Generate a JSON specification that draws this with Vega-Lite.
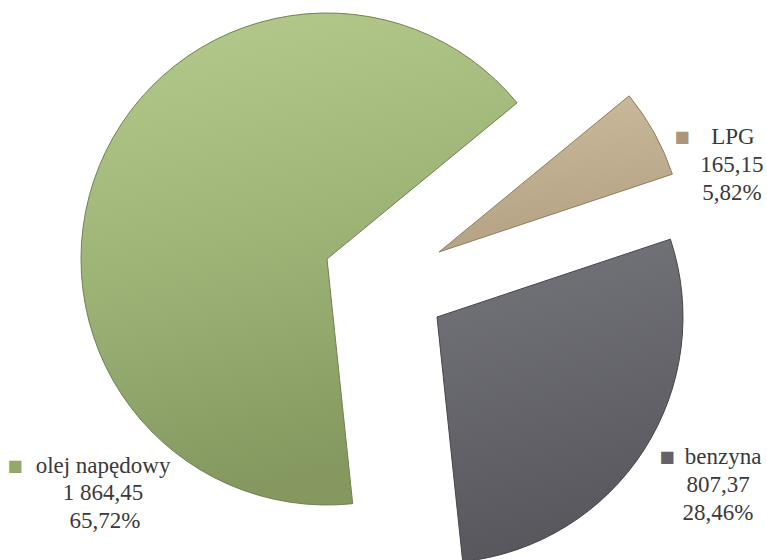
{
  "$schema": "https://vega.github.io/schema/vega-lite/v6.json",
  "width": 764,
  "height": 554,
  "autosize": "none",
  "padding": {"left": 3, "top": 6, "right": 0, "bottom": 0},
  "background": "white",
  "data": {
    "values": [
      {"category": "LPG", "value": 165.15, "share": 0.0582},
      {"category": "benzyna", "value": 807.37, "share": 0.2846},
      {"category": "olej napędowy", "value": 1864.45, "share": 0.6572}
    ]
  },
  "transform": [
    {"stack": "value", "groupby": [], "sort": [{"field": "category", "order": "ascending"}], "as": ["v0", "v1"]}
  ],
  "layer": [
    {
      "transform": [{"filter": "datum.category === 'olej napędowy'"}],
      "layer": [
        {
          "mark": {"type": "arc", "outerRadius": 246, "xOffset": -58, "yOffset": -24, "stroke": "#6f8250", "strokeWidth": 1,
            "color": {"gradient": "linear", "x1": 0, "y1": 0, "x2": 0.2, "y2": 1, "stops": [{"offset": 0, "color": "#b6ca8d"}, {"offset": 0.5, "color": "#9fb578"}, {"offset": 1, "color": "#84985f"}]}},
          "encoding": {
            "theta": {"field": "v0", "type": "quantitative", "scale": {"domain": [0, 2836.97], "range": [0.8831, 7.1663]}},
            "theta2": {"field": "v1"}
          }
        },
        {
          "mark": {"type": "text", "radius": 351.6, "thetaOffset": 1.0353, "dx": -88, "dy": -27, "font": "DejaVu Sans", "fontSize": 16, "color": "#93a96c", "align": "center", "baseline": "middle", "text": "■"},
          "encoding": {"theta": {"field": "v0", "type": "quantitative", "scale": {"domain": [0, 2836.97], "range": [0.8831, 7.1663]}}}
        },
        {
          "mark": {"type": "text", "radius": 351.6, "thetaOffset": 1.0353, "dx": 0, "dy": -27, "font": "'Liberation Serif', 'DejaVu Serif', serif", "fontSize": 23, "color": "#3a3a3a", "align": "center", "baseline": "middle"},
          "encoding": {"theta": {"field": "v0", "type": "quantitative", "scale": {"domain": [0, 2836.97], "range": [0.8831, 7.1663]}}, "text": {"field": "category"}}
        },
        {
          "mark": {"type": "text", "radius": 351.6, "thetaOffset": 1.0353, "dx": 0, "dy": 0, "font": "'Liberation Serif', 'DejaVu Serif', serif", "fontSize": 23, "color": "#3a3a3a", "align": "center", "baseline": "middle"},
          "encoding": {"theta": {"field": "v0", "type": "quantitative", "scale": {"domain": [0, 2836.97], "range": [0.8831, 7.1663]}}, "text": {"field": "value", "type": "quantitative", "format": ",.2f"}}
        },
        {
          "mark": {"type": "text", "radius": 351.6, "thetaOffset": 1.0353, "dx": 2, "dy": 28, "font": "'Liberation Serif', 'DejaVu Serif', serif", "fontSize": 23, "color": "#3a3a3a", "align": "center", "baseline": "middle"},
          "encoding": {"theta": {"field": "v0", "type": "quantitative", "scale": {"domain": [0, 2836.97], "range": [0.8831, 7.1663]}}, "text": {"field": "share", "type": "quantitative", "format": ".2%"}}
        }
      ]
    },
    {
      "transform": [{"filter": "datum.category === 'benzyna'"}],
      "layer": [
        {
          "mark": {"type": "arc", "outerRadius": 246, "xOffset": 52, "yOffset": 34, "stroke": "#46464b", "strokeWidth": 1,
            "color": {"gradient": "linear", "x1": 0, "y1": 0, "x2": 0.2, "y2": 1, "stops": [{"offset": 0, "color": "#75757c"}, {"offset": 1, "color": "#57575d"}]}},
          "encoding": {
            "theta": {"field": "v0", "type": "quantitative", "scale": {"domain": [0, 2836.97], "range": [0.8831, 7.1663]}},
            "theta2": {"field": "v1"}
          }
        },
        {
          "mark": {"type": "text", "radius": 389.5, "thetaOffset": 0.8671, "dx": -51, "dy": -28, "font": "DejaVu Sans", "fontSize": 16, "color": "#626268", "align": "center", "baseline": "middle", "text": "■"},
          "encoding": {"theta": {"field": "v0", "type": "quantitative", "scale": {"domain": [0, 2836.97], "range": [0.8831, 7.1663]}}}
        },
        {
          "mark": {"type": "text", "radius": 389.5, "thetaOffset": 0.8671, "dx": 5, "dy": -28, "font": "'Liberation Serif', 'DejaVu Serif', serif", "fontSize": 23, "color": "#3a3a3a", "align": "center", "baseline": "middle"},
          "encoding": {"theta": {"field": "v0", "type": "quantitative", "scale": {"domain": [0, 2836.97], "range": [0.8831, 7.1663]}}, "text": {"field": "category"}}
        },
        {
          "mark": {"type": "text", "radius": 389.5, "thetaOffset": 0.8671, "dx": 0, "dy": 0, "font": "'Liberation Serif', 'DejaVu Serif', serif", "fontSize": 23, "color": "#3a3a3a", "align": "center", "baseline": "middle"},
          "encoding": {"theta": {"field": "v0", "type": "quantitative", "scale": {"domain": [0, 2836.97], "range": [0.8831, 7.1663]}}, "text": {"field": "value", "type": "quantitative", "format": ",.2f"}}
        },
        {
          "mark": {"type": "text", "radius": 389.5, "thetaOffset": 0.8671, "dx": 0, "dy": 28, "font": "'Liberation Serif', 'DejaVu Serif', serif", "fontSize": 23, "color": "#3a3a3a", "align": "center", "baseline": "middle"},
          "encoding": {"theta": {"field": "v0", "type": "quantitative", "scale": {"domain": [0, 2836.97], "range": [0.8831, 7.1663]}}, "text": {"field": "share", "type": "quantitative", "format": ".2%"}}
        }
      ]
    },
    {
      "transform": [{"filter": "datum.category === 'LPG'"}],
      "layer": [
        {
          "mark": {"type": "arc", "outerRadius": 246, "xOffset": 54, "yOffset": -31, "stroke": "#8f7f63", "strokeWidth": 1,
            "color": {"gradient": "linear", "x1": 0, "y1": 0, "x2": 0.2, "y2": 1, "stops": [{"offset": 0, "color": "#ccbc9d"}, {"offset": 1, "color": "#b3a284"}]}},
          "encoding": {
            "theta": {"field": "v0", "type": "quantitative", "scale": {"domain": [0, 2836.97], "range": [0.8831, 7.1663]}},
            "theta2": {"field": "v1"}
          }
        },
        {
          "mark": {"type": "text", "radius": 366.5, "thetaOffset": 0.3595, "dx": -50, "dy": -28, "font": "DejaVu Sans", "fontSize": 16, "color": "#a89878", "align": "center", "baseline": "middle", "text": "■"},
          "encoding": {"theta": {"field": "v0", "type": "quantitative", "scale": {"domain": [0, 2836.97], "range": [0.8831, 7.1663]}}}
        },
        {
          "mark": {"type": "text", "radius": 366.5, "thetaOffset": 0.3595, "dx": 1, "dy": -28, "font": "'Liberation Serif', 'DejaVu Serif', serif", "fontSize": 23, "color": "#3a3a3a", "align": "center", "baseline": "middle"},
          "encoding": {"theta": {"field": "v0", "type": "quantitative", "scale": {"domain": [0, 2836.97], "range": [0.8831, 7.1663]}}, "text": {"field": "category"}}
        },
        {
          "mark": {"type": "text", "radius": 366.5, "thetaOffset": 0.3595, "dx": 0, "dy": 0, "font": "'Liberation Serif', 'DejaVu Serif', serif", "fontSize": 23, "color": "#3a3a3a", "align": "center", "baseline": "middle"},
          "encoding": {"theta": {"field": "v0", "type": "quantitative", "scale": {"domain": [0, 2836.97], "range": [0.8831, 7.1663]}}, "text": {"field": "value", "type": "quantitative", "format": ",.2f"}}
        },
        {
          "mark": {"type": "text", "radius": 366.5, "thetaOffset": 0.3595, "dx": 0, "dy": 28, "font": "'Liberation Serif', 'DejaVu Serif', serif", "fontSize": 23, "color": "#3a3a3a", "align": "center", "baseline": "middle"},
          "encoding": {"theta": {"field": "v0", "type": "quantitative", "scale": {"domain": [0, 2836.97], "range": [0.8831, 7.1663]}}, "text": {"field": "share", "type": "quantitative", "format": ".2%"}}
        }
      ]
    }
  ],
  "config": {
    "view": {"stroke": null},
    "locale": {"number": {"decimal": ",", "thousands": " ", "grouping": [3], "currency": ["", " zł"]}}
  }
}
